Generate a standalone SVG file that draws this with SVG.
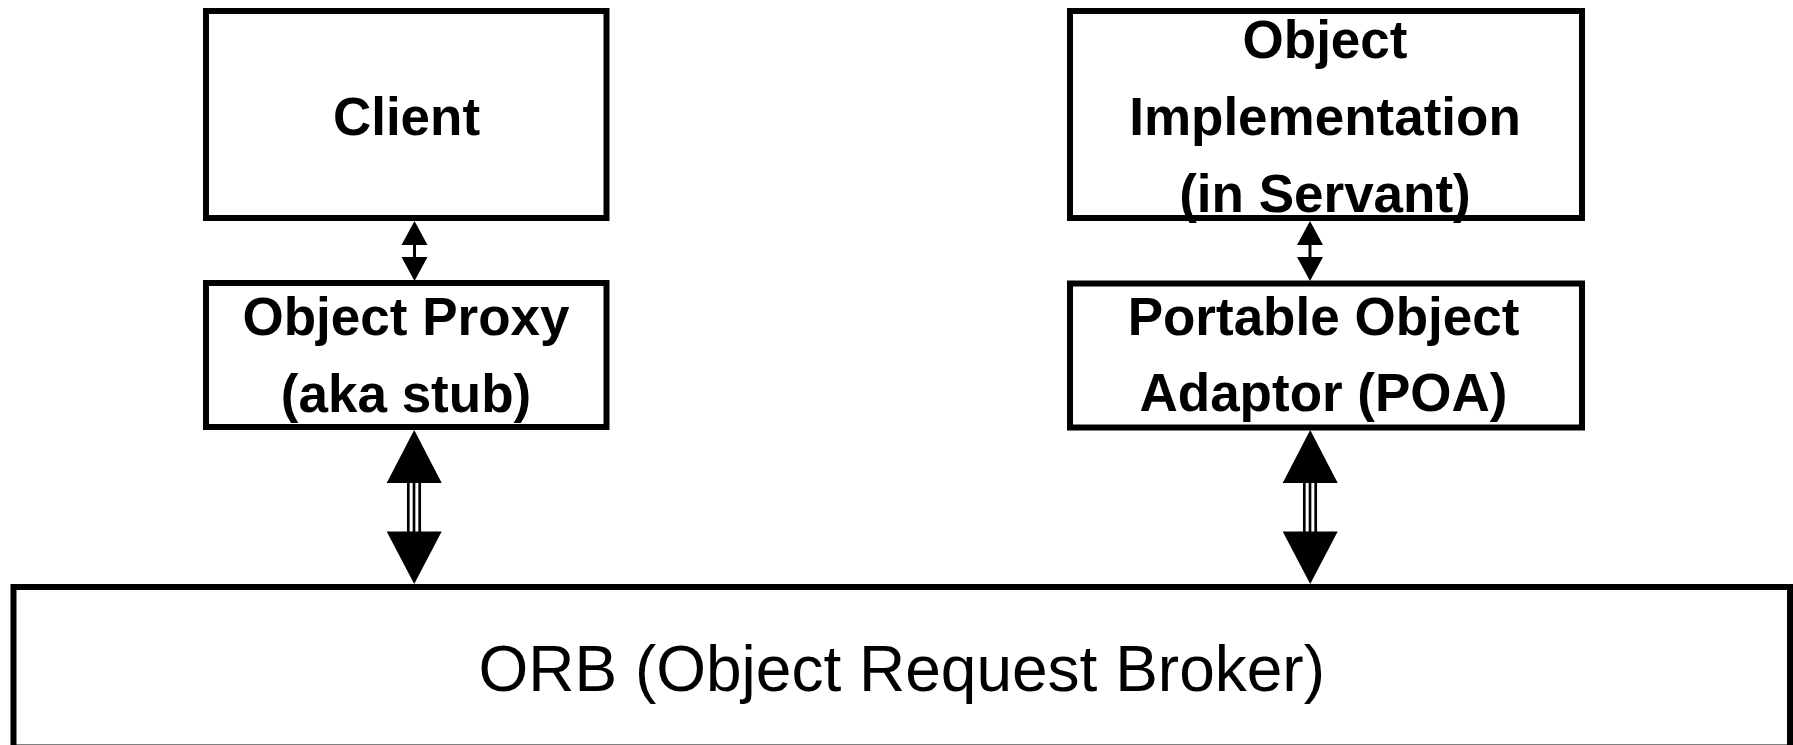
<svg xmlns="http://www.w3.org/2000/svg" width="1793" height="745" viewBox="0 0 1793 745">
<style>
.box{fill:#fff;stroke:#000;stroke-width:6}
.bold{font-family:"Liberation Sans",Arial,sans-serif;font-weight:bold;font-size:53px;fill:#000;text-anchor:middle}
.reg{font-family:"Liberation Sans",Arial,sans-serif;font-size:64px;fill:#000;text-anchor:middle}
.head{fill:#000;stroke:none}
.thin{stroke:#000;stroke-width:3;fill:none}
.bar{stroke:#000;stroke-width:2.7;fill:none}
</style>
<rect width="1793" height="745" fill="#fff"/>
<g id="client">
<rect class="box" x="206" y="11" width="400.5" height="207"/>
<text class="bold" x="406.5" y="135">Client</text>
</g>
<g id="proxy">
<rect class="box" x="206" y="283" width="400.5" height="144"/>
<text class="bold" x="406" y="335">Object Proxy</text>
<text class="bold" x="406" y="411.5">(aka stub)</text>
</g>
<g id="impl">
<rect class="box" x="1070" y="11" width="512" height="207"/>
<text class="bold" x="1325" y="58">Object</text>
<text class="bold" x="1325" y="135">Implementation</text>
<text class="bold" x="1325" y="211.5">(in Servant)</text>
</g>
<g id="poa">
<rect class="box" x="1070" y="283.5" width="512" height="144"/>
<text class="bold" x="1323.5" y="335">Portable Object</text>
<text class="bold" x="1323.5" y="411">Adaptor (POA)</text>
</g>
<g id="orb">
<rect class="box" x="13.5" y="587" width="1776.5" height="160.5"/>
<text class="reg" x="901.7" y="691">ORB (Object Request Broker)</text>
</g>
<g id="connectors">
<line class="thin" x1="414.5" y1="244" x2="414.5" y2="258"/>
<polygon class="head" points="414.5,221 401.5,245 427.5,245"/>
<polygon class="head" points="414.5,281 401.5,257 427.5,257"/>
<line class="thin" x1="1310" y1="244" x2="1310" y2="258"/>
<polygon class="head" points="1310,221 1297,245 1323,245"/>
<polygon class="head" points="1310,281 1297,257 1323,257"/>
<line class="bar" x1="408.3" y1="482" x2="408.3" y2="532"/>
<line class="bar" x1="414" y1="482" x2="414" y2="532"/>
<line class="bar" x1="419.7" y1="482" x2="419.7" y2="532"/>
<polygon class="head" points="414.2,430 386.7,483 441.7,483"/>
<polygon class="head" points="414.2,584 386.7,531.5 441.7,531.5"/>
<line class="bar" x1="1304.3" y1="482" x2="1304.3" y2="532"/>
<line class="bar" x1="1310" y1="482" x2="1310" y2="532"/>
<line class="bar" x1="1315.7" y1="482" x2="1315.7" y2="532"/>
<polygon class="head" points="1310.2,430 1282.7,483 1337.7,483"/>
<polygon class="head" points="1310.2,584 1282.7,531.5 1337.7,531.5"/>
</g>
</svg>
